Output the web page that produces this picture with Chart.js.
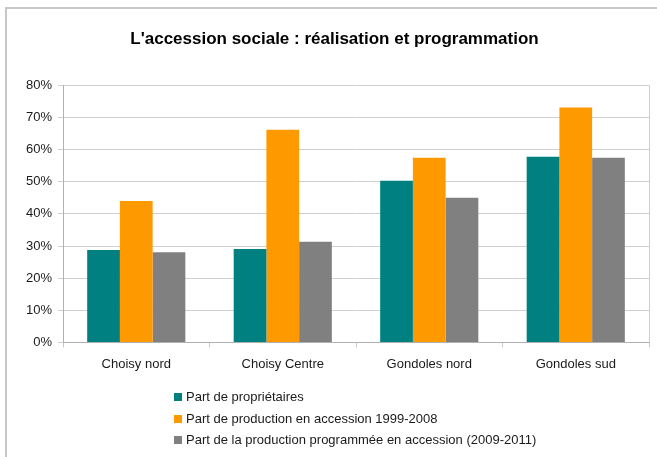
<!DOCTYPE html>
<html>
<head>
<meta charset="utf-8">
<script src="https://cdn.jsdelivr.net/npm/chart.js@4/dist/chart.umd.min.js"></script>
<style>
  html, body { margin: 0; padding: 0; background: #fff; overflow: hidden; }
  #frame { position: absolute; left: 5px; top: 7px; width: 700px; height: 500px; border: 2px solid #c8c8c8; }
  #wrap { position: absolute; left: 0; top: 0; width: 657px; height: 457px; }
</style>
</head>
<body>
<div id="frame"></div>
<div id="wrap"><canvas id="accCanvas"></canvas></div>
<script>
var categories = ["Choisy nord", "Choisy Centre", "Gondoles nord", "Gondoles sud"];
var seriesNames = [
  "Part de propriétaires",
  "Part de production en accession 1999-2008",
  "Part de la production programmée en accession (2009-2011)"
];
var proprietaires = [28.8, 29.1, 50.3, 57.8];
var production9908 = [44.0, 66.2, 57.5, 73.1];
var programmee0911 = [28.1, 31.3, 45.0, 57.5];
var seriesColors = ["#008080", "#FF9900", "#808080"];
var yTicks = [0, 10, 20, 30, 40, 50, 60, 70, 80];

var FONT = "'Liberation Sans', Arial, sans-serif";

// right border of the plot area + stacked legend drawn under the chart
var extras = {
  id: 'extras',
  afterDraw: function(chart) {
    var ctx = chart.ctx, a = chart.chartArea;
    ctx.save();
    ctx.strokeStyle = '#cfcfcf';
    ctx.lineWidth = 1;
    ctx.beginPath();
    ctx.moveTo(Math.round(a.right) + 0.5, a.top);
    ctx.lineTo(Math.round(a.right) + 0.5, a.bottom);
    ctx.stroke();

    ctx.font = '13px ' + FONT;
    ctx.textBaseline = 'middle';
    var rowY = [397, 419, 440];
    chart.data.datasets.forEach(function(ds, i) {
      ctx.fillStyle = ds.backgroundColor;
      ctx.fillRect(174, rowY[i] - 4, 8, 8);
      ctx.fillStyle = '#1a1a1a';
      ctx.fillText(ds.label, 186, rowY[i]);
    });
    ctx.restore();
  }
};

var config = {
  type: 'bar',
  data: {
    labels: categories,
    datasets: [
      { label: seriesNames[0], data: proprietaires, backgroundColor: seriesColors[0] },
      { label: seriesNames[1], data: production9908, backgroundColor: seriesColors[1] },
      { label: seriesNames[2], data: programmee0911, backgroundColor: seriesColors[2] }
    ]
  },
  options: {
    responsive: true,
    maintainAspectRatio: false,
    animation: false,
    events: [],
    layout: { padding: { left: 20, right: 8, top: 29, bottom: 76 } },
    datasets: { bar: { categoryPercentage: 0.67, barPercentage: 1.0 } },
    plugins: {
      legend: { display: false },
      tooltip: { enabled: false },
      title: {
        display: true,
        text: "L'accession sociale : réalisation et programmation",
        color: '#000',
        font: { family: FONT, size: 17, weight: 'bold' },
        padding: { top: 0, bottom: 36 }
      }
    },
    scales: {
      x: {
        grid: { display: true, drawOnChartArea: false, color: '#c8c8c8', tickLength: 5 },
        border: { color: '#b0b0b0' },
        ticks: { color: '#1a1a1a', font: { family: FONT, size: 13 }, padding: 9, maxRotation: 0 }
      },
      y: {
        min: 0,
        max: 80,
        afterBuildTicks: function(axis) {
          axis.ticks = yTicks.map(function(v) { return { value: v }; });
        },
        grid: { color: '#d0d0d0', tickLength: 5 },
        border: { color: '#b0b0b0' },
        ticks: {
          color: '#1a1a1a',
          font: { family: FONT, size: 13 },
          padding: 6,
          callback: function(v) { return v + '%'; }
        }
      }
    }
  },
  plugins: [extras]
};

var ctx = document.getElementById('accCanvas').getContext('2d');
var accChart = new Chart(ctx, config);
</script>
</body>
</html>
